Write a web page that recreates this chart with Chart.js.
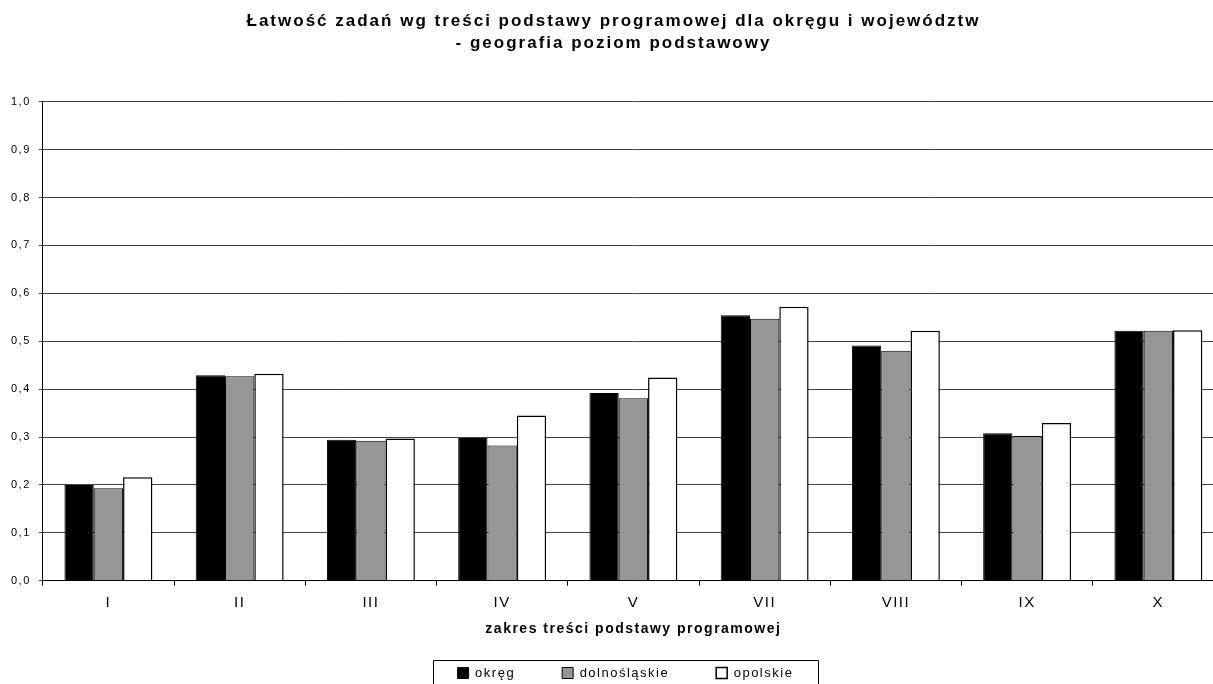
<!DOCTYPE html>
<html>
<head>
<meta charset="utf-8">
<script src="https://cdn.jsdelivr.net/npm/chart.js@4/dist/chart.umd.min.js"></script>
<style>
  html, body { margin: 0; background: #fff; overflow: hidden; }
  /* wykres w oryginale jest ucięty z prawej strony */
  #wrap { width: 1224px; height: 684px; }
</style>
</head>
<body>
<div id="wrap"><canvas id="myChart"></canvas></div>
<script>
let categories = ["I", "II", "III", "IV", "V", "VII", "VIII", "IX", "X"];
let okreg = [0.200, 0.429, 0.294, 0.298, 0.392, 0.554, 0.491, 0.308, 0.522];
let dolnoslaskie = [0.193, 0.427, 0.292, 0.282, 0.381, 0.547, 0.480, 0.302, 0.522];
let opolskie = [0.216, 0.432, 0.297, 0.345, 0.424, 0.572, 0.522, 0.329, 0.523];

// rozstrzelone litery jak w oryginale (Excel)
let spacing = {
    id: "spacing",
    afterInit(chart) {
        let tb = chart.titleBlock;
        let draw = tb.draw;
        tb.draw = function () {
            let c = chart.ctx;
            let old = c.letterSpacing;
            c.letterSpacing = "2px";
            draw.apply(tb, arguments);
            c.letterSpacing = old;
        };
    },
    beforeLayout(chart) { chart.ctx.letterSpacing = "1.5px"; },
    afterLayout(chart) {
        // legenda w oryginale jest przesunięta trochę w prawo
        chart.legend.left += 12;
        chart.legend.right += 12;
    },
    beforeDraw(chart) { chart.ctx.letterSpacing = "1.5px"; }
};

// ramka wokół legendy
let legendBox = {
    id: "legendBox",
    afterDraw(chart) {
        let boxes = chart.legend.legendHitBoxes;
        if (!boxes || !boxes.length) return;
        let first = boxes[0], last = boxes[boxes.length - 1];
        let ctx = chart.ctx;
        ctx.save();
        ctx.strokeStyle = "#000";
        ctx.lineWidth = 1;
        let left = Math.round(first.left - 25) + 0.5;
        let right = Math.round(last.left + last.width + 25) + 0.5;
        let top = Math.round(first.top - 7) + 0.5;
        ctx.beginPath();
        ctx.moveTo(left, chart.height + 5);
        ctx.lineTo(left, top);
        ctx.lineTo(right, top);
        ctx.lineTo(right, chart.height + 5);
        ctx.stroke();
        ctx.restore();
    }
};

let ctx = document.getElementById("myChart").getContext("2d");
let chart = new Chart(ctx, {
    type: "bar",
    data: {
        labels: categories,
        datasets: [{
            label: "okręg",
            data: okreg,
            backgroundColor: "#000000",
            borderColor: "#000000",
            borderWidth: 1
        }, {
            label: "dolnośląskie",
            data: dolnoslaskie,
            backgroundColor: "#969696",
            borderColor: "#000000",
            borderWidth: 1
        }, {
            label: "opolskie",
            data: opolskie,
            backgroundColor: "#ffffff",
            borderColor: "#000000",
            borderWidth: 1.5
        }]
    },
    options: {
        responsive: true,
        maintainAspectRatio: false,
        animation: false,
        categoryPercentage: 0.67,
        barPercentage: 1.0,
        layout: { padding: { left: 3, right: 0, top: 0, bottom: -5.5 } },
        plugins: {
            title: {
                display: true,
                text: ["Łatwość zadań wg treści podstawy programowej dla okręgu i województw", "- geografia poziom podstawowy"],
                font: { family: "Liberation Sans", size: 17, weight: "bold", lineHeight: 1.3 },
                color: "#000",
                padding: { top: 10, bottom: 47.5 }
            },
            legend: {
                display: true,
                position: "bottom",
                labels: {
                    font: { family: "Liberation Sans", size: 13 },
                    color: "#000",
                    boxWidth: 11,
                    boxHeight: 11,
                    padding: 47
                }
            },
            tooltip: { enabled: false }
        },
        scales: {
            x: {
                afterFit: function (scale) { scale.height = 38.8; },
                grid: {
                    display: true,
                    drawOnChartArea: false,
                    offset: true,
                    color: "#000",
                    tickLength: 5
                },
                border: { color: "#000" },
                ticks: {
                    font: { family: "Liberation Sans", size: 15 },
                    color: "#000",
                    padding: 8
                },
                title: {
                    display: true,
                    text: "zakres treści podstawy programowej",
                    font: { family: "Liberation Sans", size: 14, weight: "bold", lineHeight: 1.2 },
                    color: "#000",
                    padding: { top: 0, bottom: -18.4 }
                }
            },
            y: {
                min: 0,
                max: 1,
                ticks: {
                    stepSize: 0.1,
                    font: { family: "Liberation Sans", size: 11 },
                    color: "#000",
                    padding: 8,
                    callback: function (value) {
                        return value.toFixed(1).replace(".", ",");
                    }
                },
                grid: {
                    color: "#444",
                    tickLength: 4
                },
                border: { color: "#000" }
            }
        }
    },
    plugins: [spacing, legendBox]
});
</script>
</body>
</html>
